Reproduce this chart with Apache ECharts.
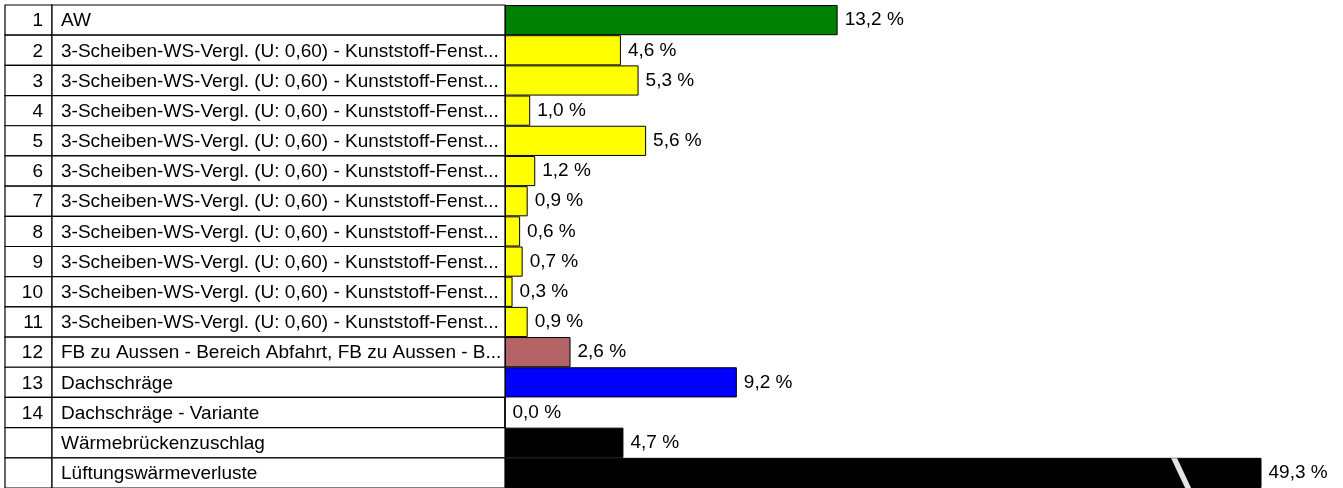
<!DOCTYPE html>
<html>
<head>
<meta charset="utf-8">
<script src="https://cdn.jsdelivr.net/npm/echarts@6/dist/echarts.min.js"></script>
<style>
  html, body { margin: 0; padding: 0; background: #fff; }
  #chart { width: 1343px; height: 488px; }
</style>
</head>
<body>
<div id="chart"></div>
<script>
// ---- data ----
const categories = [
  'AW',
  '3-Scheiben-WS-Vergl. (U: 0,60) - Kunststoff-Fenst...',
  '3-Scheiben-WS-Vergl. (U: 0,60) - Kunststoff-Fenst...',
  '3-Scheiben-WS-Vergl. (U: 0,60) - Kunststoff-Fenst...',
  '3-Scheiben-WS-Vergl. (U: 0,60) - Kunststoff-Fenst...',
  '3-Scheiben-WS-Vergl. (U: 0,60) - Kunststoff-Fenst...',
  '3-Scheiben-WS-Vergl. (U: 0,60) - Kunststoff-Fenst...',
  '3-Scheiben-WS-Vergl. (U: 0,60) - Kunststoff-Fenst...',
  '3-Scheiben-WS-Vergl. (U: 0,60) - Kunststoff-Fenst...',
  '3-Scheiben-WS-Vergl. (U: 0,60) - Kunststoff-Fenst...',
  '3-Scheiben-WS-Vergl. (U: 0,60) - Kunststoff-Fenst...',
  'FB zu Aussen - Bereich Abfahrt, FB zu Aussen - B...',
  'Dachschräge',
  'Dachschräge - Variante',
  'Wärmebrückenzuschlag',
  'Lüftungswärmeverluste'
];
const rowNumbers = ['1','2','3','4','5','6','7','8','9','10','11','12','13','14','',''];
const values = [13.2, 4.6, 5.3, 1.0, 5.6, 1.2, 0.9, 0.6, 0.7, 0.3, 0.9, 2.6, 9.2, 0.0, 4.7, 49.3];
const barColors = ['#008000','#ffff00','#ffff00','#ffff00','#ffff00','#ffff00','#ffff00','#ffff00','#ffff00','#ffff00','#ffff00','#b46464','#0000ff','#ffffff','#000000','#000000'];
const axisMax = 30;          // bars longer than this are shown broken
const breakValue = 26.83;    // where the break stripe sits on the broken bar

// ---- style ----
const FONT = '"Liberation Sans", Arial, sans-serif';
const FS = 19;
const NUM_W = 47;
const chart = echarts.init(document.getElementById('chart'), null, { renderer: 'canvas' });

const fmt = v => v.toFixed(1).replace('.', ',') + ' %';
const brokenIdx = values.map((v, i) => v > axisMax ? i : -1).filter(i => i >= 0);

const option = {
  animation: false,
  backgroundColor: '#fff',
  grid: [
    { left: 505, top: 5, width: 756, height: 483.4 },
    { left: 5, top: 5, width: 500, height: 483.4 }
  ],
  xAxis: [
    { type: 'value', gridIndex: 0, min: 0, max: axisMax, show: false },
    { type: 'value', gridIndex: 1, min: 0, max: 1, show: false }
  ],
  yAxis: [
    { type: 'category', gridIndex: 0, data: categories, inverse: true, show: false },
    { type: 'category', gridIndex: 1, data: categories, inverse: true, show: false }
  ],
  series: [
    {
      type: 'custom',
      xAxisIndex: 1, yAxisIndex: 1,
      data: categories.map((c, i) => [0, i]),
      renderItem: function (params, api) {
        const i = params.dataIndex;
        const cs = params.coordSys;
        const c = api.coord([0, i]);
        const h = api.size([0, 1])[1];
        const y0 = c[1] - h / 2;
        return {
          type: 'group',
          children: [
            { type: 'rect', shape: { x: cs.x, y: y0, width: NUM_W, height: h },
              style: { fill: '#fff', stroke: '#000', lineWidth: 1.2 } },
            { type: 'rect', shape: { x: cs.x + NUM_W, y: y0, width: cs.width - NUM_W, height: h },
              style: { fill: '#fff', stroke: '#000', lineWidth: 1.2 } },
            { type: 'text', x: cs.x + NUM_W - 9, y: c[1] + 1,
              style: { text: rowNumbers[i], align: 'right', verticalAlign: 'middle', fill: '#000', font: FS + 'px ' + FONT } },
            { type: 'text', x: cs.x + NUM_W + 9, y: c[1] + 1,
              style: { text: categories[i], align: 'left', verticalAlign: 'middle', fill: '#000', font: FS + 'px ' + FONT } }
          ]
        };
      }
    },
    {
      type: 'bar',
      xAxisIndex: 0, yAxisIndex: 0,
      barWidth: '100%',
      barCategoryGap: '0%',
      clip: true,
      data: values.map((v, i) => ({
        value: v,
        itemStyle: { color: barColors[i], borderColor: '#000', borderWidth: 1 }
      })),
      label: {
        show: true,
        position: 'right',
        distance: 7,
        color: '#000',
        fontFamily: FONT,
        fontSize: FS,
        formatter: p => fmt(p.value)
      }
    },
    {
      type: 'custom',
      xAxisIndex: 0, yAxisIndex: 0,
      data: brokenIdx.map(i => [breakValue, i]),
      z: 5,
      renderItem: function (params, api) {
        const c = api.coord([api.value(0), api.value(1)]);
        const h = api.size([0, 1])[1];
        const t = c[1] - h / 2 + 0.5, b = c[1] + h / 2;
        return {
          type: 'polygon',
          shape: { points: [[c[0] - 10, t], [c[0] - 4, t], [c[0] + 10, b], [c[0] + 4, b]] },
          style: { fill: '#e4e4e4' }
        };
      }
    }
  ]
};
chart.setOption(option);
</script>
</body>
</html>
